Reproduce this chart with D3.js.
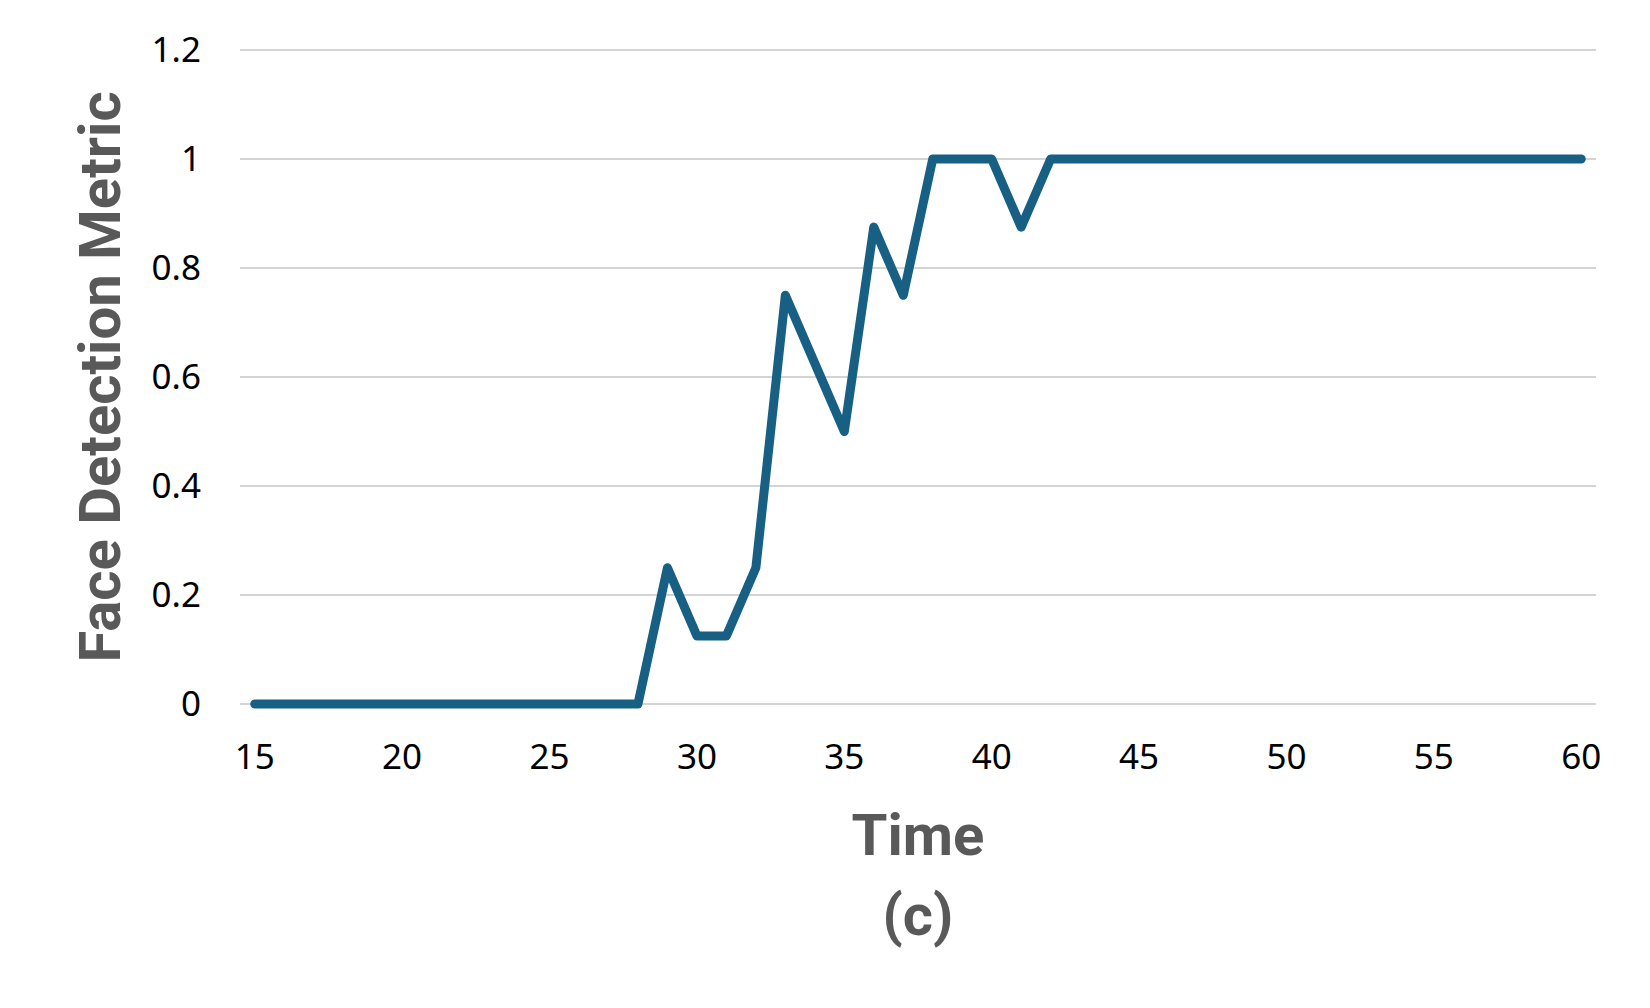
<!DOCTYPE html>
<html>
<head>
<meta charset="utf-8">
<script src="https://cdn.jsdelivr.net/npm/d3@7"></script>
<style>
  body { margin: 0; background: #fff; }
  svg { display: block; }
</style>
</head>
<body>
<div id="chart"></div>
<script>
var w = 1650
var h = 1008

// data
var times = d3.range(15, 61)
var metric = [
  0, 0, 0, 0, 0, 0, 0, 0, 0, 0, 0, 0, 0, 0,      // 15 - 28
  0.25, 0.125, 0.125, 0.25, 0.75, 0.625, 0.5,     // 29 - 35
  0.875, 0.75, 1, 1, 1, 0.875, 1,                 // 36 - 42
  1, 1, 1, 1, 1, 1, 1, 1, 1, 1, 1, 1, 1, 1, 1, 1, 1, 1  // 43 - 60
]
var xTicks = [15, 20, 25, 30, 35, 40, 45, 50, 55, 60]
var yTicks = [0, 0.2, 0.4, 0.6, 0.8, 1, 1.2]

var margins = { left: 240, right: 54, top: 50, bottom: 304 }

var x = d3.scaleLinear().domain([14.5, 60.5]).range([margins.left, w - margins.right])
var y = d3.scaleLinear().domain([0, 1.2]).range([h - margins.bottom, margins.top])

var svg = d3.select('#chart').append('svg')
  .attr('width', w)
  .attr('height', h)
  .attr('viewBox', [0, 0, w, h].join(' '))

// horizontal grid lines
svg.append('g')
  .selectAll('line')
  .data(yTicks)
  .enter().append('line')
  .attr('x1', x(14.5))
  .attr('x2', x(60.5))
  .attr('y1', function (d) { return y(d) })
  .attr('y2', function (d) { return y(d) })
  .attr('stroke', '#d4d4d4')
  .attr('stroke-width', 2.2)

// y tick labels
svg.append('g')
  .selectAll('text')
  .data(yTicks)
  .enter().append('text')
  .text(function (d) { return d3.format('~g')(d) })
  .attr('x', 201)
  .attr('y', function (d) { return y(d) })
  .attr('dy', '0.35em')
  .attr('text-anchor', 'end')
  .attr('fill', '#000')
  .style('font-family', '"Noto Sans", sans-serif')
  .style('font-size', '35px')

// x tick labels
svg.append('g')
  .selectAll('text')
  .data(xTicks)
  .enter().append('text')
  .text(function (d) { return d })
  .attr('x', function (d) { return x(d) })
  .attr('y', 757)
  .attr('dy', '0.35em')
  .attr('text-anchor', 'middle')
  .attr('fill', '#000')
  .style('font-family', '"Noto Sans", sans-serif')
  .style('font-size', '35px')

// the series
var line = d3.line()
  .x(function (d, i) { return x(times[i]) })
  .y(function (d) { return y(d) })

svg.append('path')
  .datum(metric)
  .attr('d', line)
  .attr('fill', 'none')
  .attr('stroke', '#176083')
  .attr('stroke-width', 9)
  .attr('stroke-linejoin', 'round')
  .attr('stroke-linecap', 'round')

// axis titles
var cx = (x(14.5) + x(60.5)) / 2
svg.append('text').text('Time')
  .attr('x', cx)
  .attr('y', 855)
  .attr('text-anchor', 'middle')
  .attr('fill', '#595959')
  .style('font-family', 'Roboto, sans-serif')
  .style('font-weight', 'bold')
  .style('font-size', '58px')

svg.append('text').text('(c)')
  .attr('x', cx)
  .attr('y', 935)
  .attr('text-anchor', 'middle')
  .attr('fill', '#595959')
  .style('font-family', 'Roboto, sans-serif')
  .style('font-weight', 'bold')
  .style('font-size', '58px')

svg.append('text').text('Face Detection Metric')
  .attr('transform', 'translate(120,' + (y(0) + y(1.2)) / 2 + ') rotate(-90)')
  .attr('text-anchor', 'middle')
  .attr('fill', '#595959')
  .style('font-family', 'Roboto, sans-serif')
  .style('font-weight', 'bold')
  .style('font-size', '58px')
</script>
</body>
</html>
